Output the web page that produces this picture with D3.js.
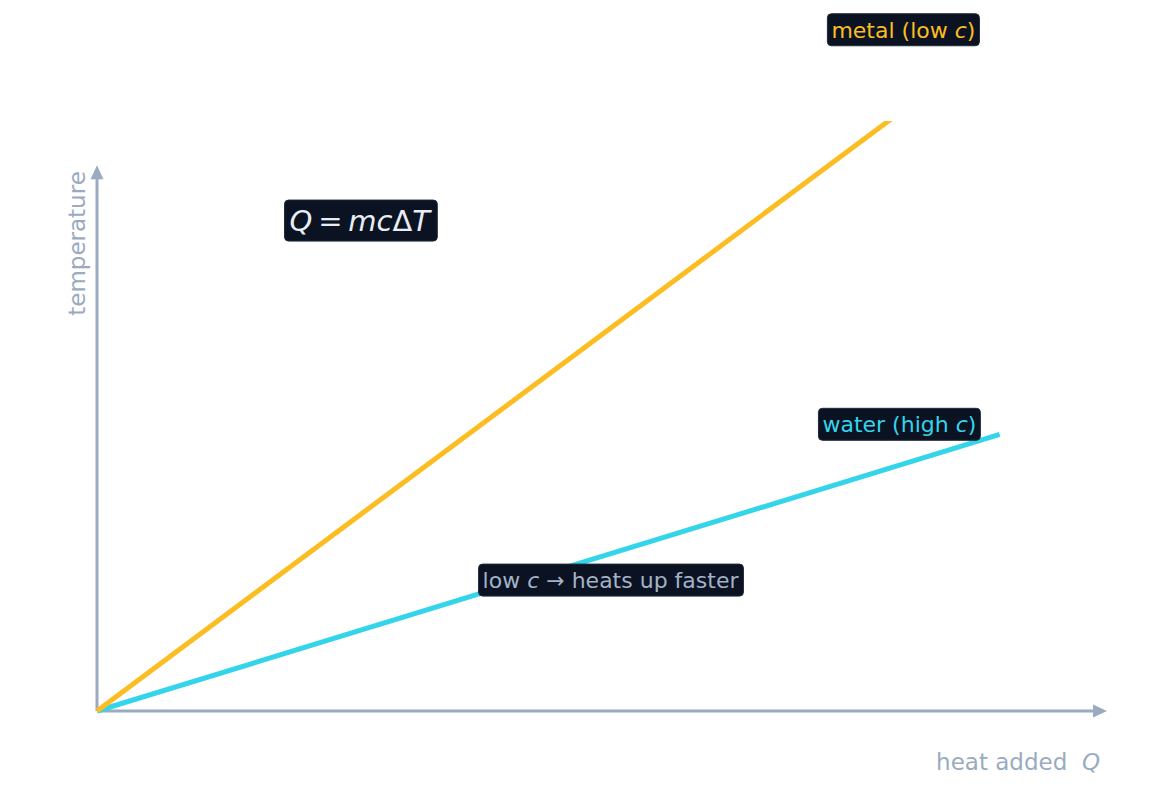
<!DOCTYPE html>
<html lang="en">
<head>
    <meta charset="UTF-8">
    <title>Specific heat: temperature vs heat added</title>
    <script src="https://d3js.org/d3.v7.min.js"></script>
    <style>
        body {
            margin: 0;
            padding: 0;
            background: #ffffff;
            font-family: 'DejaVu Sans', sans-serif;
        }
        svg { display: block; }
        .axis-line {
            stroke: #9aabbf;
            stroke-width: 3;
            fill: none;
        }
        .axis-label {
            fill: #9aabbf;
            font-size: 23px;
        }
        .box {
            fill: #0b1222;
            stroke: #1f2a3c;
            stroke-width: 1;
        }
    </style>
</head>
<body>
    <div id="chart"></div>
    <script>
        // heat added Q (arbitrary units) at the line ends
        const heat = [0, 9];
        const waterTemp = [0, 3.0];   // high c -> shallow
        const metalTemp = [0, 7.3];   // low c -> steep

        const xDomain = [0, 10];
        const yDomain = [0, 6.4];
        const xAxisEnd = 10.07;
        const yAxisEnd = 5.92;

        const width = 1176, height = 799;

        const svg = d3.select("#chart").append("svg")
            .attr("width", width)
            .attr("height", height);

        const x = d3.scaleLinear().domain(xDomain).range([97, 1100]);
        const y = d3.scaleLinear().domain(yDomain).range([711, 121]);

        const defs = svg.append("defs");
        defs.append("clipPath").attr("id", "plot-clip")
            .append("rect")
            .attr("x", x(0) - 10).attr("y", y(yDomain[1]))
            .attr("width", x(xDomain[1]) - x(0) + 20)
            .attr("height", y(0) - y(yDomain[1]) + 10);

        // axes with arrow heads
        svg.append("line").attr("class", "axis-line")
            .attr("x1", x(0)).attr("y1", y(0))
            .attr("x2", x(xAxisEnd) - 8).attr("y2", y(0));
        svg.append("path")
            .attr("d", `M${x(xAxisEnd)},${y(0)} l-14,-6.5 l0,13 z`)
            .attr("fill", "#9aabbf");

        svg.append("line").attr("class", "axis-line")
            .attr("x1", x(0)).attr("y1", y(0))
            .attr("x2", x(0)).attr("y2", y(yAxisEnd) + 8);
        svg.append("path")
            .attr("d", `M${x(0)},${y(yAxisEnd)} l-6.5,14 l13,0 z`)
            .attr("fill", "#9aabbf");

        // lines
        const line = d3.line().x(d => x(d[0])).y(d => y(d[1]));
        const plot = svg.append("g").attr("clip-path", "url(#plot-clip)");

        plot.append("path")
            .datum(d3.zip(heat, waterTemp))
            .attr("d", line)
            .attr("fill", "none")
            .attr("stroke", "#34d5ea")
            .attr("stroke-width", 5);

        plot.append("path")
            .datum(d3.zip(heat, metalTemp))
            .attr("d", line)
            .attr("fill", "none")
            .attr("stroke", "#fbbd22")
            .attr("stroke-width", 5);

        // axis labels
        svg.append("text").attr("class", "axis-label")
            .attr("transform", `translate(${x(0) - 12},${243.5}) rotate(-90)`)
            .attr("text-anchor", "middle")
            .text("temperature");

        const xl = svg.append("text").attr("class", "axis-label")
            .attr("x", 1100).attr("y", 770)
            .attr("text-anchor", "end");
        xl.append("tspan").text("heat added\u00a0\u00a0");
        xl.append("tspan").attr("font-style", "italic").text("Q");

        // boxed annotations
        function boxed(cx, cy, parts, color, size, padX, padTop, padBottom) {
            const g = svg.append("g");
            const rect = g.append("rect").attr("class", "box").attr("rx", 4);
            const t = g.append("text")
                .attr("x", x(cx)).attr("y", y(cy))
                .attr("text-anchor", "middle")
                .attr("dominant-baseline", "central")
                .attr("fill", color)
                .attr("font-size", size);
            parts.forEach(p => {
                const ts = t.append("tspan").text(p.t);
                if (p.i) ts.attr("font-style", "italic");
            });
            const bb = t.node().getBBox();
            rect.attr("x", bb.x - padX).attr("y", bb.y - padTop)
                .attr("width", bb.width + 2 * padX)
                .attr("height", bb.height + padTop + padBottom);
            return g;
        }

        boxed(8.04, 7.39, [{t: "metal (low "}, {t: "c", i: true}, {t: ")"}], "#fbbd22", 22, 4, 3.5, 3.5);
        boxed(8.0, 3.11, [{t: "water (high "}, {t: "c", i: true}, {t: ")"}], "#34d5ea", 22, 4, 3.5, 3.5);
        boxed(5.12, 1.42, [{t: "low "}, {t: "c", i: true}, {t: " \u2192 heats up faster"}], "#a3b2c6", 22, 4, 3.5, 3.5);
        boxed(2.62, 5.32, [{t: "Q", i: true}, {t: "\u2009=\u2009"}, {t: "mc", i: true}, {t: "\u0394"}, {t: "T", i: true}], "#e8edf4", 29, 5, 3.5, 3.5);
    </script>
</body>
</html>
